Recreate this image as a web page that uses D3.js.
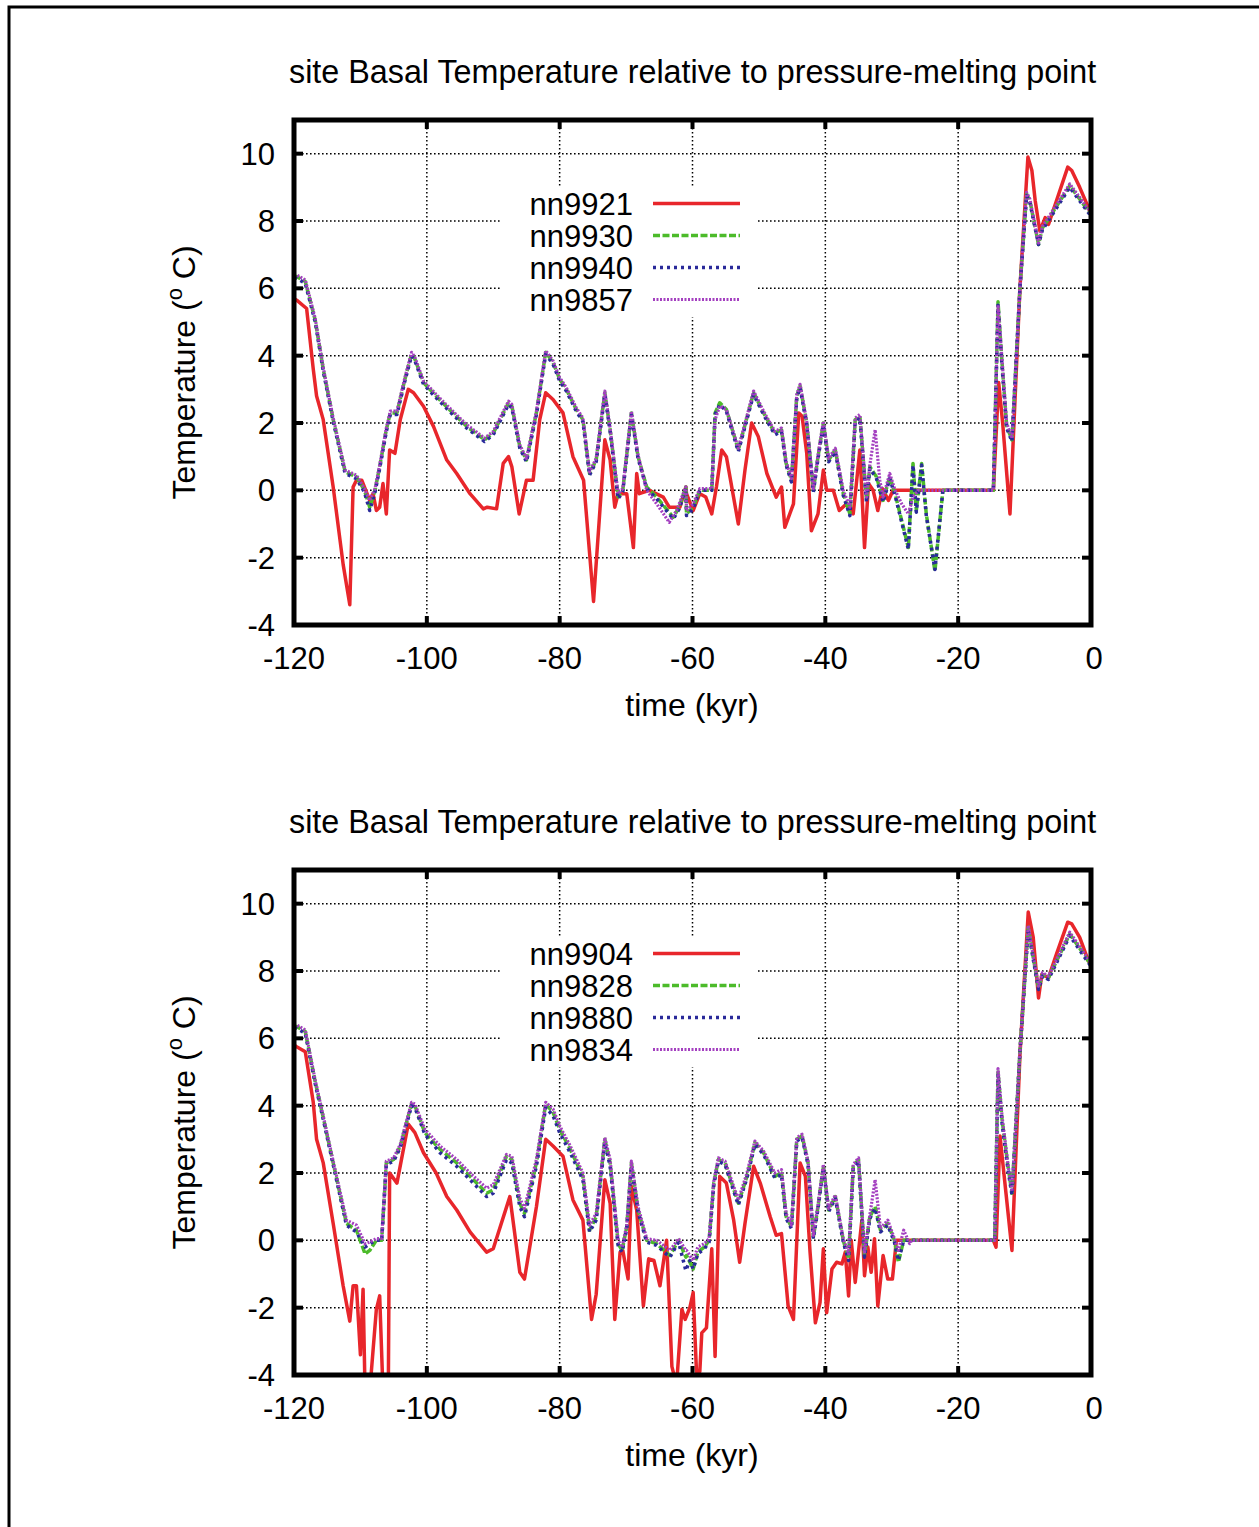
<!DOCTYPE html>
<html><head><meta charset="utf-8">
<script src="https://cdn.jsdelivr.net/npm/d3@7"></script>
<style>
html,body{margin:0;padding:0;background:#fff;}
text{font-family:"Liberation Sans",Arial,Helvetica,sans-serif;fill:#000;}
</style></head>
<body>
<svg id="chart" width="1259" height="1527"></svg>
<script>
// ---------- DATA ----------
const xTicks = [-120,-100,-80,-60,-40,-20,0];
const yTicks = [-4,-2,0,2,4,6,8,10];
const titleText = "site Basal Temperature relative to pressure-melting point";
const xLabel = "time (kyr)";

const topNames = ["nn9921","nn9930","nn9940","nn9857"];
const bottomNames = ["nn9904","nn9828","nn9880","nn9834"];

// top panel
const top_nn9921 = [[-120,5.7],[-119.6,5.65],[-118.1,5.4],[-117.1,3.6],[-116.6,2.8],[-115.6,2.1],[-114.1,0.1],[-112.6,-2.2],[-111.6,-3.4],[-111.1,0.1],[-110.6,0.3],[-109.8,0.3],[-108.6,-0.3],[-108.1,-0.1],[-107.6,-0.6],[-107.1,-0.5],[-106.6,0.2],[-106.1,-0.7],[-105.6,1.2],[-104.8,1.1],[-104,2.1],[-102.8,3.0],[-102,2.9],[-100.5,2.5],[-99,1.9],[-97,0.9],[-95.5,0.5],[-93.5,-0.1],[-91.5,-0.55],[-90.9,-0.5],[-89.5,-0.55],[-88.5,0.8],[-87.7,1.0],[-87.2,0.7],[-86.1,-0.7],[-85,0.3],[-84,0.3],[-83,2.1],[-82.1,2.9],[-81,2.7],[-79.5,2.3],[-78,1.0],[-76.4,0.3],[-74.9,-3.3],[-73.2,1.5],[-72.4,0.9],[-71.7,-0.5],[-71.2,-0.1],[-69.9,-0.1],[-68.9,-1.7],[-68.4,0.5],[-68,-0.1],[-66.5,0],[-64.4,-0.2],[-63.5,-0.5],[-61.9,-0.5],[-61,0.1],[-60.9,-0.1],[-59.9,-0.6],[-58.9,-0.1],[-58,-0.2],[-57.1,-0.7],[-56.4,0.1],[-55.6,1.2],[-54.9,1.0],[-53.1,-1.0],[-52.1,0.6],[-51.1,2.0],[-50.1,1.6],[-48.8,0.5],[-47.4,-0.2],[-46.6,0.1],[-46.1,-1.1],[-44.8,-0.4],[-44,2.3],[-43.5,2.2],[-42.8,1.1],[-42.1,-1.2],[-41.1,-0.7],[-40.3,0.6],[-39.8,0],[-38.8,0],[-37.9,-0.6],[-36.8,-0.4],[-35.8,-0.7],[-34.8,1.2],[-34.1,-1.7],[-33.5,0.2],[-32.8,0],[-32.1,-0.6],[-31.4,0.05],[-30.5,-0.3],[-29.8,0],[-14.7,0],[-13.9,3.2],[-13.3,2.0],[-12.2,-0.7],[-10.7,6.0],[-9.5,9.9],[-8.9,9.5],[-8.4,8.6],[-7.7,7.7],[-6.9,8.1],[-6.4,7.9],[-5.2,8.6],[-3.5,9.6],[-2.9,9.5],[-1.7,9.0],[-0.4,8.4],[0,8.2]];
const top_nn9930 = [[-120,6.35],[-119.6,6.35],[-118.3,6.2],[-116.8,5.05],[-115.6,3.6],[-114.1,2.1],[-112.3,0.55],[-110.6,0.4],[-109.4,0],[-108.6,-0.5],[-107.8,0],[-107.1,0.7],[-106.1,1.8],[-105.5,2.3],[-104.5,2.3],[-103.3,3.3],[-102.3,4.05],[-101.8,3.9],[-100.5,3.2],[-98.6,2.8],[-96.6,2.4],[-94,1.9],[-91.3,1.5],[-90,1.7],[-87.7,2.6],[-87.2,2.5],[-86,1.3],[-85,0.9],[-83.5,2.3],[-82.1,4.1],[-81,3.8],[-80,3.3],[-79,3.0],[-77.5,2.4],[-76.5,2.1],[-75.5,0.5],[-74.5,0.9],[-73.2,2.9],[-72.4,1.8],[-71.2,-0.2],[-70.5,0],[-69.2,2.3],[-68.2,1.0],[-66.9,0.1],[-65.4,-0.2],[-62.9,-0.8],[-62,-0.5],[-61,0.1],[-60.9,-0.7],[-59.9,-0.5],[-58.9,0],[-57.1,0],[-56.6,2.3],[-55.9,2.6],[-54.9,2.4],[-53.1,1.2],[-50.8,2.9],[-49.3,2.3],[-47.6,1.7],[-46.6,1.8],[-45.9,0.8],[-45.1,0.3],[-44.3,2.8],[-43.8,3.1],[-42.8,2.0],[-41.8,0],[-41.1,1.0],[-40.3,2.0],[-39.5,0.9],[-38.5,1.2],[-37.3,-0.1],[-36.3,-0.7],[-35.5,2.1],[-34.8,2.2],[-33.8,-0.3],[-33.3,0.7],[-32.3,0.4],[-31.3,-0.3],[-30.3,0.4],[-29.5,-0.1],[-28.5,-0.9],[-27.5,-1.7],[-26.8,0.8],[-26.3,-0.6],[-25.5,0.8],[-24.8,-0.7],[-23.5,-2.4],[-22.3,0],[-14.7,0],[-14,5.6],[-13.4,3.8],[-12.7,1.9],[-11.9,1.5],[-10.7,6.0],[-9.7,8.8],[-9.2,8.6],[-7.9,7.3],[-7.3,7.8],[-6.6,8.0],[-3.2,9.05],[-0.4,8.3],[0,8.2]];
const top_nn9940 = [[-120,6.3],[-119.6,6.3],[-118.3,6.15],[-116.8,5.0],[-115.6,3.55],[-114.1,2.05],[-112.3,0.5],[-110.6,0.35],[-109.4,-0.05],[-108.6,-0.6],[-107.8,-0.05],[-107.1,0.65],[-106.1,1.75],[-105.5,2.25],[-104.5,2.25],[-103.3,3.25],[-102.3,4.0],[-101.8,3.85],[-100.5,3.15],[-98.6,2.75],[-96.6,2.35],[-94,1.85],[-91.3,1.45],[-90,1.65],[-87.7,2.55],[-87.2,2.45],[-86,1.25],[-85,0.85],[-83.5,2.25],[-82.1,4.05],[-81,3.75],[-80,3.25],[-79,2.95],[-77.5,2.35],[-76.5,2.05],[-75.5,0.45],[-74.5,0.85],[-73.2,2.85],[-72.4,1.75],[-71.2,-0.25],[-70.5,-0.05],[-69.2,2.25],[-68.2,0.95],[-66.9,0.05],[-65.4,-0.25],[-62.9,-0.85],[-62,-0.55],[-61,0.05],[-60.9,-0.75],[-59.9,-0.55],[-58.9,0],[-57.1,0],[-56.6,2.25],[-55.9,2.55],[-54.9,2.35],[-53.1,1.15],[-50.8,2.85],[-49.3,2.25],[-47.6,1.65],[-46.6,1.75],[-45.9,0.75],[-45.1,0.25],[-44.3,2.75],[-43.8,3.05],[-42.8,1.95],[-41.8,-0.05],[-41.1,0.95],[-40.3,1.95],[-39.5,0.85],[-38.5,1.15],[-37.3,-0.15],[-36.3,-0.75],[-35.5,2.05],[-34.8,2.15],[-33.8,-0.35],[-33.3,0.65],[-32.3,0.35],[-31.3,-0.35],[-30.3,0.35],[-29.5,-0.15],[-28.5,-0.95],[-27.5,-1.75],[-26.8,0.75],[-26.3,-0.65],[-25.5,0.75],[-24.8,-0.75],[-23.5,-2.35],[-22.3,0],[-14.7,0],[-14,5.5],[-13.4,3.7],[-12.7,1.85],[-11.9,1.45],[-10.7,6.0],[-9.7,8.75],[-9.2,8.55],[-7.9,7.3],[-7.3,7.75],[-6.6,7.95],[-3.2,9.0],[-0.4,8.25],[0,8.15]];
const top_nn9857 = [[-120,6.4],[-119.6,6.4],[-118.3,6.25],[-116.8,5.1],[-115.6,3.65],[-114.1,2.15],[-112.3,0.6],[-110.6,0.45],[-109.4,0.05],[-108.6,-0.3],[-107.8,0.05],[-107.1,0.75],[-106.1,1.85],[-105.5,2.35],[-104.5,2.35],[-103.3,3.35],[-102.3,4.1],[-101.8,3.95],[-100.5,3.25],[-98.6,2.85],[-96.6,2.45],[-94,1.95],[-91.3,1.55],[-90,1.75],[-87.7,2.65],[-87.2,2.55],[-86,1.35],[-85,0.95],[-83.5,2.35],[-82.1,4.15],[-81,3.85],[-80,3.35],[-79,3.05],[-77.5,2.45],[-76.5,2.15],[-75.5,0.55],[-74.5,0.95],[-73.2,2.95],[-72.4,1.85],[-71.2,-0.1],[-70.5,0.05],[-69.2,2.35],[-68.2,1.05],[-66.9,0.0],[-65.4,-0.4],[-63.5,-0.95],[-62.4,-0.6],[-61,0.1],[-60.9,-0.6],[-59.9,-0.4],[-58.9,0.05],[-57.1,0.05],[-56.6,2.1],[-55.9,2.5],[-54.9,2.4],[-53.1,1.25],[-50.8,2.95],[-49.3,2.35],[-47.6,1.75],[-46.6,1.85],[-45.9,0.85],[-45.1,0.35],[-44.3,2.85],[-43.8,3.15],[-42.8,2.05],[-41.8,0.05],[-41.1,1.05],[-40.3,2.05],[-39.5,0.95],[-38.5,1.25],[-37.3,0.0],[-36.3,-0.5],[-35.5,2.15],[-34.8,2.25],[-33.8,-0.2],[-33.3,0.75],[-32.5,1.8],[-31.8,0.3],[-31.3,-0.2],[-30.3,0.5],[-29.5,0.0],[-28.5,-0.4],[-27.5,-0.7],[-26.8,-0.2],[-26,0],[-14.7,0],[-14,5.5],[-13.4,3.9],[-12.7,2.0],[-11.9,1.55],[-10.7,6.0],[-9.7,8.85],[-9.2,8.65],[-7.9,7.35],[-7.3,7.85],[-6.6,8.05],[-3.2,9.1],[-0.4,8.35],[0,8.25]];

// bottom panel
const bot_nn9904 = [[-120,5.8],[-119.6,5.75],[-118.3,5.6],[-117.1,4.1],[-116.6,3.0],[-115.6,2.3],[-114.1,0.5],[-112.6,-1.35],[-111.6,-2.4],[-111.1,-1.35],[-110.6,-1.35],[-110,-3.4],[-109.6,-1.45],[-109.3,-4.5],[-108.6,-4.5],[-107.6,-2.05],[-107.1,-1.65],[-106.6,-4.5],[-105.8,-4.5],[-105.6,2.0],[-104.5,1.7],[-102.8,3.45],[-101.8,3.2],[-100.5,2.6],[-98.6,2.0],[-97,1.3],[-95.5,0.9],[-93.5,0.25],[-91,-0.35],[-90,-0.25],[-87.5,1.3],[-86,-0.95],[-85.3,-1.15],[-83.5,1.0],[-82.1,3.0],[-81,2.8],[-79.5,2.5],[-78,1.2],[-76.5,0.6],[-75.2,-2.35],[-74.5,-1.6],[-73.2,1.8],[-72.4,1.1],[-71.7,-2.35],[-70.9,-0.35],[-70.5,-0.3],[-69.7,-1.15],[-69.2,1.6],[-68.4,0.9],[-67.4,-1.95],[-66.6,-0.55],[-65.8,-0.6],[-64.9,-1.35],[-63.9,0.0],[-63.1,-3.75],[-62.4,-4.3],[-61.6,-2.05],[-61.1,-2.35],[-60.4,-2.0],[-59.9,-1.55],[-59.4,-3.9],[-58.9,-3.9],[-58.6,-2.75],[-57.9,-2.6],[-57.1,-0.25],[-56.6,-3.45],[-55.9,1.9],[-54.9,1.7],[-53.8,0.6],[-52.9,-0.65],[-52.1,0.5],[-50.8,2.2],[-49.8,1.7],[-48.3,0.7],[-47.4,0.15],[-46.6,0.2],[-45.6,-1.95],[-44.8,-2.35],[-43.8,2.3],[-43,1.9],[-42.3,-0.35],[-41.5,-2.45],[-40.8,-1.85],[-40.3,-0.25],[-39.8,-2.15],[-39,-0.85],[-38.3,-0.65],[-37.5,-0.7],[-37,-0.35],[-36.5,-1.65],[-36.1,0],[-35.5,-1.25],[-34.5,0.6],[-34.1,-1.05],[-33.6,-0.2],[-33.1,-0.95],[-32.6,0.05],[-32.1,-1.95],[-31.3,-0.45],[-30.6,-1.15],[-29.9,-1.15],[-29.3,0],[-14.7,0],[-14.3,-0.2],[-13.7,3.1],[-12.8,1.4],[-11.9,-0.3],[-10.7,5.5],[-9.45,9.75],[-8.7,9.0],[-7.9,7.2],[-7.4,7.9],[-6.4,7.8],[-5.2,8.5],[-3.5,9.45],[-2.9,9.4],[-1.7,9.0],[-0.4,8.3],[0,8.2]];
const bot_nn9828 = [[-120,6.35],[-119.6,6.35],[-118.3,6.2],[-116.8,4.7],[-115.6,3.65],[-114.1,2.3],[-112.1,0.5],[-110.6,0.3],[-109.3,-0.4],[-108.6,-0.3],[-107.6,0],[-106.8,0],[-106.1,2.3],[-105,2.4],[-104,2.8],[-102.3,4.05],[-101.8,4.0],[-100.3,3.2],[-98,2.7],[-95.5,2.3],[-93.5,1.9],[-91,1.4],[-90,1.5],[-88,2.5],[-87.2,2.4],[-86,1.1],[-85.3,0.8],[-83.5,2.3],[-82.1,4.05],[-81,3.8],[-80,3.3],[-78.4,2.7],[-76.5,1.9],[-75.5,0.3],[-74.5,0.7],[-73.2,3.0],[-72.4,2.3],[-71.2,-0.1],[-70.6,-0.3],[-69.9,0.4],[-69.2,2.3],[-68.2,0.9],[-66.9,0],[-65.4,-0.1],[-63.4,-0.45],[-62.1,0],[-61,-0.5],[-60.9,-0.45],[-59.9,-0.85],[-59.2,-0.35],[-58.2,-0.2],[-57.5,0],[-56.8,1.7],[-56.1,2.4],[-55.1,2.3],[-53.1,1.1],[-51.8,1.9],[-50.6,2.9],[-49.3,2.6],[-47.6,1.9],[-46.6,2.0],[-45.9,0.7],[-45.1,0.4],[-44.3,3.0],[-43.5,3.1],[-42.6,2.3],[-41.8,0.1],[-41.1,1.0],[-40.3,2.2],[-39.5,0.9],[-38.5,1.3],[-37.3,0],[-36.5,-0.55],[-35.8,2.2],[-35,2.4],[-34.1,-0.45],[-33.3,0.7],[-32.5,1.0],[-31.7,0.3],[-30.6,0.5],[-29.6,0],[-29,-0.65],[-28.2,0],[-14.5,0],[-14,5.0],[-13.4,3.6],[-12.5,2.2],[-11.9,1.4],[-10.7,5.6],[-9.45,9.3],[-8.7,8.4],[-7.9,7.5],[-7.3,7.9],[-6.4,7.8],[-3.2,9.1],[-0.4,8.3],[0,8.2]];
const bot_nn9880 = [[-120,6.3],[-119.6,6.3],[-118.3,6.15],[-116.8,4.65],[-115.6,3.6],[-114.1,2.25],[-112.1,0.45],[-110.6,0.25],[-109.3,-0.2],[-108.6,-0.1],[-107.6,0],[-106.8,0],[-106.1,2.25],[-105,2.35],[-104,2.75],[-102.3,4.0],[-101.8,3.95],[-100.3,3.15],[-98,2.6],[-95.5,2.2],[-93.5,1.8],[-91,1.3],[-90,1.4],[-88,2.4],[-87.2,2.3],[-86,1.0],[-85.3,0.7],[-83.5,2.2],[-82.1,3.95],[-81,3.7],[-80,3.2],[-78.4,2.6],[-76.5,1.8],[-75.5,0.25],[-74.5,0.6],[-73.2,2.9],[-72.4,2.2],[-71.2,-0.15],[-70.6,-0.35],[-69.9,0.35],[-69.2,2.2],[-68.2,0.85],[-66.9,-0.05],[-65.4,-0.15],[-63.4,-0.5],[-62.1,-0.05],[-61,-0.9],[-60.4,-0.6],[-59.9,-0.85],[-59.2,-0.4],[-58.2,-0.25],[-57.5,-0.05],[-56.8,1.65],[-56.1,2.35],[-55.1,2.25],[-53.1,1.05],[-51.8,1.85],[-50.6,2.85],[-49.3,2.55],[-47.6,1.85],[-46.6,1.95],[-45.9,0.65],[-45.1,0.35],[-44.3,2.95],[-43.5,3.05],[-42.6,2.25],[-41.8,0.05],[-41.1,0.95],[-40.3,2.15],[-39.5,0.85],[-38.5,1.25],[-37.3,-0.05],[-36.5,-0.6],[-35.8,2.15],[-35,2.35],[-34.1,-0.5],[-33.3,0.65],[-32.5,0.95],[-31.7,0.25],[-30.6,0.45],[-29.6,-0.05],[-29,-0.6],[-28.2,0],[-14.5,0],[-14,4.9],[-13.4,3.5],[-12.5,2.1],[-11.9,1.35],[-10.7,5.6],[-9.45,9.25],[-8.7,8.35],[-7.9,7.45],[-7.3,7.85],[-6.4,7.75],[-3.2,9.05],[-0.4,8.25],[0,8.15]];
const bot_nn9834 = [[-120,6.4],[-119.6,6.4],[-118.3,6.25],[-116.8,4.75],[-115.6,3.7],[-114.1,2.35],[-112.1,0.6],[-110.6,0.45],[-109.3,-0.1],[-108.6,-0.05],[-107.6,0.05],[-106.8,0.05],[-106.1,2.35],[-105,2.45],[-104,2.85],[-102.3,4.1],[-101.8,4.05],[-100.3,3.3],[-98,2.8],[-95.5,2.4],[-93.5,2.0],[-91,1.55],[-90,1.65],[-88,2.55],[-87.2,2.5],[-86,1.25],[-85.3,0.95],[-83.5,2.4],[-82.1,4.1],[-81,3.9],[-80,3.4],[-78.4,2.8],[-76.5,2.0],[-75.5,0.45],[-74.5,0.8],[-73.2,3.05],[-72.4,2.4],[-71.2,0.0],[-70.6,-0.2],[-69.9,0.45],[-69.2,2.35],[-68.2,1.0],[-66.9,0.05],[-65.4,0.0],[-63.4,-0.3],[-62.1,0.05],[-61,-0.3],[-60.9,-0.3],[-59.9,-0.6],[-59.2,-0.2],[-58.2,-0.1],[-57.5,0.05],[-56.8,1.75],[-56.1,2.45],[-55.1,2.35],[-53.1,1.2],[-51.8,2.0],[-50.6,2.95],[-49.3,2.65],[-47.6,2.0],[-46.6,2.1],[-45.9,0.8],[-45.1,0.45],[-44.3,3.05],[-43.5,3.15],[-42.6,2.35],[-41.8,0.15],[-41.1,1.05],[-40.3,2.25],[-39.5,0.95],[-38.5,1.35],[-37.3,0.05],[-36.5,-0.4],[-35.8,2.25],[-35,2.45],[-34.1,-0.35],[-33.3,0.75],[-32.5,1.8],[-31.7,0.35],[-30.6,0.6],[-29.6,0.05],[-29,-0.3],[-28.2,0.3],[-27.3,-0.1],[-27,0],[-14.5,0],[-14,5.1],[-13.4,3.7],[-12.5,2.25],[-11.9,1.45],[-10.7,5.6],[-9.45,9.35],[-8.7,8.45],[-7.9,7.55],[-7.3,7.95],[-6.4,7.85],[-3.2,9.15],[-0.4,8.35],[0,8.25]];

const topSeries = [top_nn9921, top_nn9930, top_nn9940, top_nn9857];
const bottomSeries = [bot_nn9904, bot_nn9828, bot_nn9880, bot_nn9834];

// ---------- STYLE ----------
const styles = [
  {color:"#e8262b", dash:null, w:3.5},
  {color:"#4cbb2a", dash:"7,2.5", w:3.5},
  {color:"#2a2a9a", dash:"3,4", w:3.5},
  {color:"#a440c0", dash:"2,1.5", w:3.2}
];

const svg = d3.select("#chart");
svg.append("rect").attr("width",1259).attr("height",1527).attr("fill","#fff");
svg.append("path").attr("d","M9,1540V7H1270").attr("fill","none").attr("stroke","#000").attr("stroke-width",3);

const FONT = 31;

function panel(offY, names, series, clipId){
  const x0 = 294, x1 = 1091, y0 = 120 + offY, y1 = 625 + offY;
  const x = d3.scaleLinear().domain([-120,0]).range([x0,x1]);
  const y = d3.scaleLinear().domain([-4,11]).range([y1,y0]);
  const g = svg.append("g");

  g.append("text").attr("x",289).attr("y",83+offY).attr("font-size",32.3).text(titleText);

  const grid = g.append("g").attr("stroke","#000").attr("stroke-width",1.5).attr("stroke-dasharray","1.6,2.4");
  grid.selectAll("line.h").data(yTicks.filter(d=>d>-4)).enter().append("line")
    .attr("x1",x0).attr("x2",x1).attr("y1",d=>y(d)).attr("y2",d=>y(d));
  grid.selectAll("line.v").data(xTicks.filter(d=>d>-120&&d<0)).enter().append("line")
    .attr("y1",y0).attr("y2",y1).attr("x1",d=>x(d)).attr("x2",d=>x(d));

  g.append("rect").attr("x",500).attr("y",y0+67).attr("width",258).attr("height",130).attr("fill","#fff");

  svg.append("clipPath").attr("id",clipId).append("rect")
    .attr("x",x0).attr("y",y0).attr("width",x1-x0).attr("height",y1-y0);

  const line = d3.line().x(d=>x(d[0])).y(d=>y(d[1]));
  const lines = g.append("g").attr("clip-path",`url(#${clipId})`);
  [0,1,2,3].forEach(i=>{
    lines.append("path").datum(series[i]).attr("d",line)
      .attr("fill","none").attr("stroke",styles[i].color).attr("stroke-width",styles[i].w)
      .attr("stroke-linejoin","round")
      .attr("stroke-dasharray",styles[i].dash);
  });

  const lg = g.append("g");
  names.forEach((n,i)=>{
    const ry = y0 + 83.5 + i*32;
    lg.append("text").attr("x",633).attr("y",ry+11).attr("text-anchor","end").attr("font-size",FONT).text(n);
    lg.append("line").attr("x1",653).attr("x2",740).attr("y1",ry).attr("y2",ry)
      .attr("stroke",styles[i].color).attr("stroke-width",styles[i].w).attr("stroke-dasharray",styles[i].dash);
  });

  g.append("rect").attr("x",x0).attr("y",y0).attr("width",x1-x0).attr("height",y1-y0)
    .attr("fill","none").attr("stroke","#000").attr("stroke-width",5);

  const tk = g.append("g").attr("stroke","#000").attr("stroke-width",4);
  yTicks.forEach(v=>{
    tk.append("line").attr("x1",x0).attr("x2",x0+9).attr("y1",y(v)).attr("y2",y(v));
    tk.append("line").attr("x1",x1).attr("x2",x1-9).attr("y1",y(v)).attr("y2",y(v));
  });
  xTicks.forEach(v=>{
    tk.append("line").attr("y1",y1).attr("y2",y1-9).attr("x1",x(v)).attr("x2",x(v));
    tk.append("line").attr("y1",y0).attr("y2",y0+9).attr("x1",x(v)).attr("x2",x(v));
  });

  g.selectAll("text.yl").data(yTicks).enter().append("text")
    .attr("x",275).attr("y",d=>y(d)+11).attr("text-anchor","end").attr("font-size",FONT).text(d=>d);
  g.selectAll("text.xl").data(xTicks).enter().append("text")
    .attr("x",d=>x(d)+(d===0?3:0)).attr("y",y1+44).attr("text-anchor","middle").attr("font-size",FONT).text(d=>d);

  g.append("text").attr("x",692).attr("y",y1+91).attr("text-anchor","middle").attr("font-size",32).text(xLabel);
  const yl = g.append("text").attr("transform",`translate(195,${(y0+y1)/2}) rotate(-90)`)
    .attr("text-anchor","middle").attr("font-size",32);
  yl.append("tspan").text("Temperature (");
  yl.append("tspan").attr("font-size",22).attr("dy",-13).text("o");
  yl.append("tspan").attr("dy",13).text(" C)");
}

panel(0, topNames, topSeries, "clipTop");
panel(750, bottomNames, bottomSeries, "clipBot");
</script>
</body></html>
